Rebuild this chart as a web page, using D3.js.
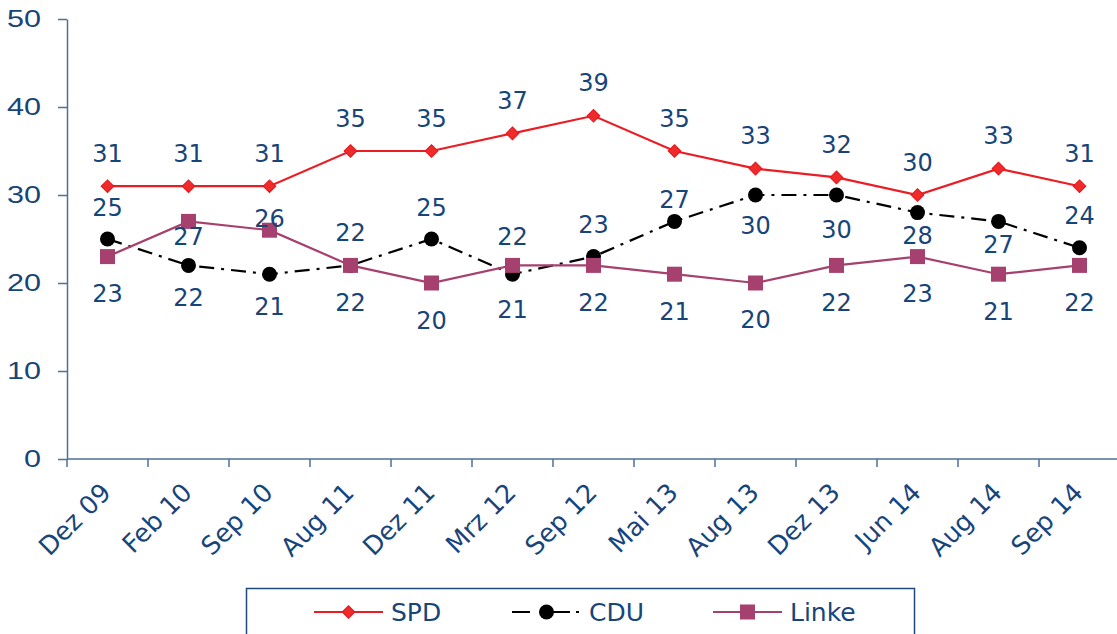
<!DOCTYPE html>
<html>
<head>
<meta charset="utf-8">
<script src="https://d3js.org/d3.v7.min.js"></script>
<style>
    body { margin: 0; background: #fff; }
    svg { display: block; font-family: "DejaVu Sans", Verdana, sans-serif; }
    .axis path, .axis line { stroke: #4f6f96; stroke-width: 1.5px; }
    .axis text { fill: #17457a; font-size: 23px; }
    .xlab { fill: #17457a; font-size: 25.5px; }
    .val { fill: #17457a; font-size: 24px; text-anchor: middle; }
    .leg text { fill: #17457a; font-size: 25px; }
</style>
</head>
<body>
<svg id="chart" width="1117" height="634"></svg>
<script>
// survey dates and values (percent)
var categories = ["Dez 09", "Feb 10", "Sep 10", "Aug 11", "Dez 11", "Mrz 12", "Sep 12",
                  "Mai 13", "Aug 13", "Dez 13", "Jun 14", "Aug 14", "Sep 14"];
var spd   = [31, 31, 31, 35, 35, 37, 39, 35, 33, 32, 30, 33, 31];
var cdu   = [25, 22, 21, 22, 25, 21, 23, 27, 30, 30, 28, 27, 24];
var linke = [23, 27, 26, 22, 20, 22, 22, 21, 20, 22, 23, 21, 22];
var yTicks = [0, 10, 20, 30, 40, 50];

// label placement (px above/below the point), as in the original
var spdLabelDy   = categories.map(function () { return -33; });
var cduLabelDy   = [-32, 32, 32, -33, -32, 35, -32, -22, 30, 34, 23, 23, -32];
var linkeLabelDy = [37, 15, -12, 37, 37, -29, 37, 37, 36, 37, 37, 37, 37];

var svg = d3.select("#chart");
var mLeft = 67, mTop = 19, mBottom = 459;

var x = d3.scaleBand().domain(categories).range([mLeft, mLeft + 81 * categories.length]);
var y = d3.scaleLinear().domain([0, 50]).range([mBottom, mTop]);
function cx(c) { return x(c) + x.bandwidth() / 2; }

// y axis (tick labels drawn a little wider, like the original)
svg.append("g").attr("class", "axis")
    .attr("transform", "translate(" + mLeft + ",0)")
    .call(d3.axisLeft(y).tickValues(yTicks).tickSize(9).tickSizeOuter(0).tickPadding(17))
    .selectAll("text")
    .attr("textLength", function (d) { return String(d).length * 17; })
    .attr("lengthAdjust", "spacingAndGlyphs");

// x axis: line plus ticks on category boundaries
var xa = svg.append("g").attr("class", "axis");
xa.append("line")
    .attr("x1", mLeft).attr("x2", 1117).attr("y1", y(0)).attr("y2", y(0));
xa.selectAll(".xt").data(categories).enter().append("line")
    .attr("x1", function (d) { return x(d); }).attr("x2", function (d) { return x(d); })
    .attr("y1", y(0)).attr("y2", y(0) + 8);
svg.selectAll(".xlab").data(categories).enter().append("text")
    .attr("class", "xlab")
    .attr("text-anchor", "end")
    .attr("transform", function (d) { return "translate(" + (cx(d) + 5) + "," + (y(0) + 35) + ") rotate(-45)"; })
    .text(function (d) { return d; });

var series = [
    { name: "SPD", values: spd, dy: spdLabelDy, color: "#ec1c24", dash: null, marker: "diamond" },
    { name: "CDU", values: cdu, dy: cduLabelDy, color: "#000000", dash: "15,7,3,7", marker: "circle" },
    { name: "Linke", values: linke, dy: linkeLabelDy, color: "#a6406f", dash: null, marker: "square" }
];

var line = d3.line()
    .x(function (d, i) { return cx(categories[i]); })
    .y(function (d) { return y(d); });

function drawMarker(sel, s) {
    if (s.marker === "diamond") {
        sel.append("path")
            .attr("d", d3.symbol(d3.symbolSquare, 80)())
            .attr("transform", "rotate(45)")
            .attr("fill", "#ee2a2a").attr("stroke", "#e8141c").attr("stroke-width", 1);
    } else if (s.marker === "circle") {
        sel.append("circle").attr("r", 7.5).attr("fill", "#000");
    } else {
        sel.append("rect").attr("x", -7.5).attr("y", -7.5).attr("width", 15).attr("height", 15)
            .attr("fill", s.color);
    }
}

series.forEach(function (s) {
    var g = svg.append("g");
    g.append("path")
        .datum(s.values)
        .attr("d", line)
        .attr("fill", "none")
        .attr("stroke", s.color)
        .attr("stroke-width", 2.2)
        .attr("stroke-dasharray", s.dash);
    g.selectAll(".m").data(s.values).enter().append("g")
        .attr("transform", function (d, i) { return "translate(" + cx(categories[i]) + "," + y(d) + ")"; })
        .each(function () { drawMarker(d3.select(this), s); });
});

// value labels on top
series.forEach(function (s) {
    svg.append("g").selectAll("text").data(s.values).enter().append("text")
        .attr("class", "val")
        .attr("x", function (d, i) { return cx(categories[i]); })
        .attr("y", function (d, i) { return y(d) + s.dy[i]; })
        .attr("dy", "0.36em")
        .text(function (d) { return d; });
});

// legend
var leg = svg.append("g").attr("class", "leg");
leg.append("rect")
    .attr("x", 246.5).attr("y", 588.5).attr("width", 668).attr("height", 60)
    .attr("fill", "#fff").attr("stroke", "#1f4a7a").attr("stroke-width", 1.5);
var legX = [314, 512, 713];
series.forEach(function (s, i) {
    var item = leg.append("g").attr("transform", "translate(" + legX[i] + ",612)");
    item.append("line").attr("x1", 0).attr("x2", 69).attr("y1", 0).attr("y2", 0)
        .attr("stroke", s.color).attr("stroke-width", 2.2)
        .attr("stroke-dasharray", s.dash ? "18,23,17,6,3,20" : null);
    var m = item.append("g").attr("transform", "translate(34.5,0)");
    drawMarker(m, s);
    item.append("text").attr("x", 77).attr("dy", "0.36em").text(s.name);
});
</script>
</body>
</html>
